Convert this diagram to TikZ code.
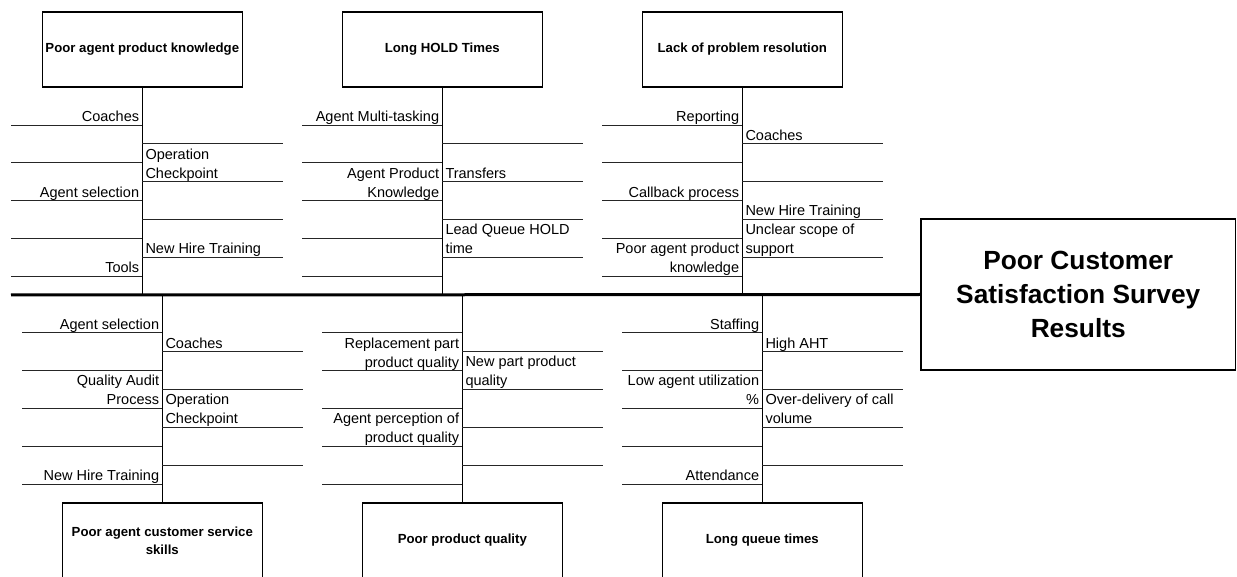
\documentclass[tikz,border=0pt]{standalone}
\usepackage{fontspec}
\setmainfont{Liberation Sans}
\begin{document}
\begin{tikzpicture}[x=1pt,y=-1pt,
  branch/.style={line width=0.8pt,black!85},
  spine/.style={line width=1pt,black},
  mainline/.style={line width=3pt,black},
  cause/.style={draw,line width=1.1pt,minimum width=200pt,minimum height=75pt,inner sep=0pt,align=center,font=\fontsize{13.2}{18}\selectfont\bfseries},
  effect/.style={draw,line width=1.6pt,minimum width=314.5pt,minimum height=151pt,inner sep=0pt,align=center,font=\fontsize{26.3}{34}\selectfont\bfseries},
  lblL/.style={inner sep=0pt,anchor=base east,align=right,font=\fontsize{14.5}{19}\selectfont},
  lblR/.style={inner sep=0pt,anchor=base west,align=left,font=\fontsize{14.5}{19}\selectfont}]
\useasboundingbox (0,0) rectangle (1237,577);

% effect and main line
\node[effect] (eff) at (1078.25,294.5) {Poor Customer\\Satisfaction Survey\\Results};
\coordinate (m0) at (11,295);
\draw[mainline] (m0) -- (eff.west);

% cause boxes
\node[cause] (t1) at (142.3,49.5) {Poor agent product knowledge};
\node[cause] (t2) at (442.3,49.5) {Long HOLD Times};
\node[cause] (t3) at (742.3,49.5) {Lack of problem resolution};
\node[cause] (b1) at (162.3,540.5) {Poor agent customer service\\skills};
\node[cause] (b2) at (462.3,540.5) {Poor product quality};
\node[cause] (b3) at (762.3,540.5) {Long queue times};

% spines
\foreach \n in {t1,t2,t3,b1,b2,b3} \coordinate (\n j) at (\n |- m0);
\draw[spine] (t1.south) -- (t1j);
\draw[spine] (t2.south) -- (t2j);
\draw[spine] (t3.south) -- (t3j);
\draw[spine] (b1.north) -- (b1j);
\draw[spine] (b2.north) -- (b2j);
\draw[spine] (b3.north) -- (b3j);

% top ribs
\foreach \sx/\xl in {142.3/11, 442.3/302.3, 742.3/602.3} {
  \foreach \y in {125,162.8,200.6,238.4,276.2} \draw[branch] (\xl,\y) -- (\sx,\y);
  \foreach \y in {143.9,181.7,219.5,257.3} \draw[branch] (\sx,\y) -- (\sx+140.5,\y);
}
% bottom ribs
\foreach \sx in {162.3, 462.3, 762.3} {
  \foreach \y in {332.7,370.5,408.3,446.1,483.9} \draw[branch] (\sx-140,\y) -- (\sx,\y);
  \foreach \y in {351.6,389.4,427.2,465} \draw[branch] (\sx,\y) -- (\sx+140.5,\y);
}

% top section 1 labels
\node[lblL] (t1a) at (139.3,121.5) {Coaches};
\node[lblL] (t1b) at (139.3,197.1) {Agent selection};
\node[lblL] (t1c) at (139.3,272.7) {Tools};
\node[lblR] (t1d) at (145.3,178.2) {Operation\\Checkpoint};
\node[lblR] (t1e) at (145.3,253.8) {New Hire Training};
% top section 2 labels
\node[lblL] (t2a) at (439.3,121.5) {Agent Multi-tasking};
\node[lblL] (t2b) at (439.3,197.1) {Agent Product\\Knowledge};
\node[lblR] (t2c) at (445.3,178.2) {Transfers};
\node[lblR] (t2d) at (445.3,253.8) {Lead Queue HOLD\\time};
% top section 3 labels
\node[lblL] (t3a) at (739.3,121.5) {Reporting};
\node[lblL] (t3b) at (739.3,197.1) {Callback process};
\node[lblL] (t3c) at (739.3,272.7) {Poor agent product\\knowledge};
\node[lblR] (t3d) at (745.3,140.4) {Coaches};
\node[lblR] (t3e) at (745.3,216) {New Hire Training};
\node[lblR] (t3f) at (745.3,253.8) {Unclear scope of\\support};
% bottom section 1 labels
\node[lblL] (b1a) at (159.3,329.2) {Agent selection};
\node[lblL] (b1b) at (159.3,404.8) {Quality Audit\\Process};
\node[lblL] (b1c) at (159.3,480.4) {New Hire Training};
\node[lblR] (b1d) at (165.3,348.1) {Coaches};
\node[lblR] (b1e) at (165.3,423.7) {Operation\\Checkpoint};
% bottom section 2 labels
\node[lblL] (b2a) at (459.3,367) {Replacement part\\product quality};
\node[lblL] (b2b) at (459.3,442.6) {Agent perception of\\product quality};
\node[lblR] (b2c) at (465.3,385.9) {New part product\\quality};
% bottom section 3 labels
\node[lblL] (b3a) at (759.3,329.2) {Staffing};
\node[lblL] (b3b) at (759.3,404.8) {Low agent utilization\\\%};
\node[lblL] (b3c) at (759.3,480.4) {Attendance};
\node[lblR] (b3d) at (765.3,348.1) {High AHT};
\node[lblR] (b3e) at (765.3,423.7) {Over-delivery of call\\volume};
\end{tikzpicture}
\end{document}
